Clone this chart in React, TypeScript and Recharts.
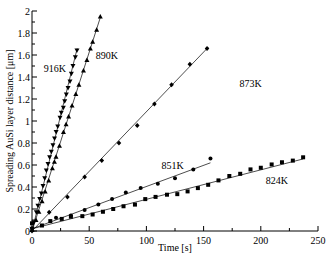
import React from 'react'
import { ScatterChart, Scatter, XAxis, YAxis, ReferenceDot } from 'recharts'

// readings for each temperature: time [s] and spreading distance [um]
const t916 = [0, 1.7, 3.8, 5.2, 6.7, 8.2, 9.6, 11.1, 12.5, 14, 15.4, 16.9, 18.3, 19.7, 21.1, 22.5, 24.5, 25.6, 27.4, 28.6, 30, 31.5, 33.2, 34.4, 35.8, 37.9, 39.3]
const d916 = [0.02, 0.08, 0.17, 0.23, 0.29, 0.34, 0.41, 0.48, 0.55, 0.61, 0.67, 0.72, 0.78, 0.84, 0.9, 0.95, 1.03, 1.075, 1.12, 1.18, 1.24, 1.3, 1.36, 1.43, 1.5, 1.58, 1.64]

const t890 = [0, 3.5, 6, 8.8, 11.5, 14.6, 17.8, 19.6, 21, 24, 27.5, 29.8, 32, 35, 38.3, 41, 45, 48, 51, 53, 56.5, 59.7]
const d890 = [0.01, 0.1, 0.175, 0.27, 0.36, 0.46, 0.57, 0.63, 0.675, 0.775, 0.9, 0.97, 1.04, 1.14, 1.245, 1.33, 1.46, 1.555, 1.66, 1.72, 1.83, 1.95]

const t873 = [0, 15, 31, 46, 61, 76, 92, 107, 122, 138, 153]
const d873 = [0.0, 0.17, 0.31, 0.49, 0.64, 0.8, 0.96, 1.155, 1.33, 1.515, 1.66]

const t851 = [0, 21, 34, 46, 58, 70, 82, 95, 110, 125, 141, 156]
const d851 = [0.02, 0.12, 0.14, 0.19, 0.24, 0.29, 0.35, 0.39, 0.43, 0.48, 0.56, 0.66]

const t824 = [0, 8.7, 16, 26, 34, 44, 53, 62, 71, 80, 90, 99, 108, 118, 127, 136, 145, 154, 163, 172.5, 182, 191, 200, 209.5, 218.5, 228, 237]
const d824 = [0.07, 0.05, 0.09, 0.11, 0.13, 0.135, 0.15, 0.175, 0.2, 0.225, 0.24, 0.29, 0.31, 0.33, 0.335, 0.36, 0.39, 0.42, 0.46, 0.5, 0.52, 0.56, 0.575, 0.605, 0.625, 0.64, 0.67]

// fitted straight lines, start and end
const fitT916 = [0, 39.5]
const fitD916 = [0, 1.66]
const fitT890 = [0, 60]
const fitD890 = [0, 1.95]
const fitT873 = [0, 154]
const fitD873 = [0, 1.67]
const fitT851 = [0, 156]
const fitD851 = [0.02, 0.62]
const fitT824 = [0, 237]
const fitD824 = [0.02, 0.655]

const labelNames = ['916K', '890K', '873K', '851K', '824K']
const labelT = [20, 65.5, 191, 123, 214]
const labelD = [1.48, 1.6, 1.345, 0.6, 0.46]

const xTicks = [0, 25, 50, 75, 100, 125, 150, 175, 200, 225, 250]
const yTicks = [0, 0.1, 0.2, 0.3, 0.4, 0.5, 0.6, 0.7, 0.8, 0.9, 1, 1.1, 1.2, 1.3, 1.4, 1.5, 1.6, 1.7, 1.8, 1.9, 2]

const zip = (t: number[], d: number[]) => t.map((v, i) => ({ t: v, d: d[i] }))

const FONT = '"Liberation Serif", "DejaVu Serif", serif'
const textStyle = { fontFamily: FONT, fontSize: 10 }

const isMajorX = (v: number) => v % 50 === 0
const isMajorY = (v: number) => Math.round(v * 10) % 2 === 0

function BottomTick({ x, y, payload }: any) {
  const major = isMajorX(payload.value)
  return (
    <g>
      <line x1={x} y1={y} x2={x} y2={y - (major ? 5 : 3)} stroke="#000" />
      {major && (
        <text x={x} y={y + 13} textAnchor="middle" style={textStyle} fill="#000">
          {payload.value}
        </text>
      )}
    </g>
  )
}

function TopTick({ x, y, payload }: any) {
  const major = isMajorX(payload.value)
  return <line x1={x} y1={y} x2={x} y2={y + (major ? 5 : 3)} stroke="#000" />
}

function LeftTick({ x, y, payload }: any) {
  const major = isMajorY(payload.value)
  return (
    <g>
      <line x1={x} y1={y} x2={x + (major ? 5 : 3)} y2={y} stroke="#000" />
      {major && (
        <text x={x - 2} y={y + 3.5} textAnchor="end" style={textStyle} fill="#000">
          {Number(payload.value.toFixed(1)).toString()}
        </text>
      )}
    </g>
  )
}

function RightTick({ x, y, payload }: any) {
  const major = isMajorY(payload.value)
  return <line x1={x} y1={y} x2={x - (major ? 5 : 3)} y2={y} stroke="#000" />
}

const DownTriangle = ({ cx, cy }: any) => (
  <polygon points={`${cx - 2.5},${cy - 2} ${cx + 2.5},${cy - 2} ${cx},${cy + 2.5}`} fill="#000" />
)
const UpTriangle = ({ cx, cy }: any) => (
  <polygon points={`${cx - 2.5},${cy + 2} ${cx + 2.5},${cy + 2} ${cx},${cy - 2.5}`} fill="#000" />
)
const Diamond = ({ cx, cy }: any) => (
  <polygon points={`${cx},${cy - 2.5} ${cx + 2.3},${cy} ${cx},${cy + 2.5} ${cx - 2.3},${cy}`} fill="#000" />
)
const Dot = ({ cx, cy }: any) => <circle cx={cx} cy={cy} r={2} fill="#000" />
const Square = ({ cx, cy }: any) => <rect x={cx - 2} y={cy - 2} width={4} height={4} fill="#000" />
const NoMark = () => <g />

const fitLine = { stroke: '#000', strokeWidth: 0.7 }

function TagLabel({ viewBox, value }: any) {
  const cx = viewBox.x + viewBox.width / 2
  const cy = viewBox.y + viewBox.height / 2
  return (
    <text x={cx} y={cy + 3.5} textAnchor="middle" style={textStyle} fill="#000">
      {value}
    </text>
  )
}

export default function App() {
  return (
    <div style={{ position: 'absolute', left: 0, top: 0 }}>
      <ScatterChart width={327} height={253} margin={{ top: 11, right: 9, left: 0, bottom: 0 }}>
        <XAxis
          dataKey="t"
          type="number"
          domain={[0, 250]}
          ticks={xTicks}
          interval={0}
          height={22}
          tickSize={0}
          tickMargin={0}
          tick={<BottomTick />}
          tickLine={false}
          axisLine={{ stroke: '#000' }}
          label={{ value: 'Time [s]', position: 'insideBottom', offset: 2, style: textStyle, fill: '#000' }}
        />
        <XAxis
          xAxisId="top"
          orientation="top"
          type="number"
          domain={[0, 250]}
          ticks={xTicks}
          interval={0}
          height={0}
          tickSize={0}
          tickMargin={0}
          tick={<TopTick />}
          tickLine={false}
          axisLine={{ stroke: '#000' }}
        />
        <YAxis
          dataKey="d"
          type="number"
          domain={[0, 2]}
          ticks={yTicks}
          interval={0}
          width={32}
          tickSize={0}
          tickMargin={0}
          tick={<LeftTick />}
          tickLine={false}
          axisLine={{ stroke: '#000' }}
          label={{
            value: 'Spreading AuSi layer distance [\u03bcm]',
            angle: -90,
            position: 'insideLeft',
            offset: 9,
            fill: '#000',
            style: { ...textStyle, textAnchor: 'middle' },
          }}
        />
        <YAxis
          yAxisId="right"
          orientation="right"
          type="number"
          domain={[0, 2]}
          ticks={yTicks}
          interval={0}
          width={0}
          tickSize={0}
          tickMargin={0}
          tick={<RightTick />}
          tickLine={false}
          axisLine={{ stroke: '#000' }}
        />

        <Scatter data={zip(fitT916, fitD916)} line={fitLine} shape={<NoMark />} isAnimationActive={false} />
        <Scatter data={zip(fitT890, fitD890)} line={fitLine} shape={<NoMark />} isAnimationActive={false} />
        <Scatter data={zip(fitT873, fitD873)} line={fitLine} shape={<NoMark />} isAnimationActive={false} />
        <Scatter data={zip(fitT851, fitD851)} line={fitLine} shape={<NoMark />} isAnimationActive={false} />
        <Scatter data={zip(fitT824, fitD824)} line={fitLine} shape={<NoMark />} isAnimationActive={false} />

        <Scatter data={zip(t916, d916)} shape={<DownTriangle />} isAnimationActive={false} />
        <Scatter data={zip(t890, d890)} shape={<UpTriangle />} isAnimationActive={false} />
        <Scatter data={zip(t873, d873)} shape={<Diamond />} isAnimationActive={false} />
        <Scatter data={zip(t851, d851)} shape={<Dot />} isAnimationActive={false} />
        <Scatter data={zip(t824, d824)} shape={<Square />} isAnimationActive={false} />

        {labelNames.map((name, i) => (
          <ReferenceDot
            key={name}
            x={labelT[i]}
            y={labelD[i]}
            r={0}
            stroke="none"
            fill="none"
            label={<TagLabel value={name} />}
          />
        ))}
      </ScatterChart>
    </div>
  )
}
